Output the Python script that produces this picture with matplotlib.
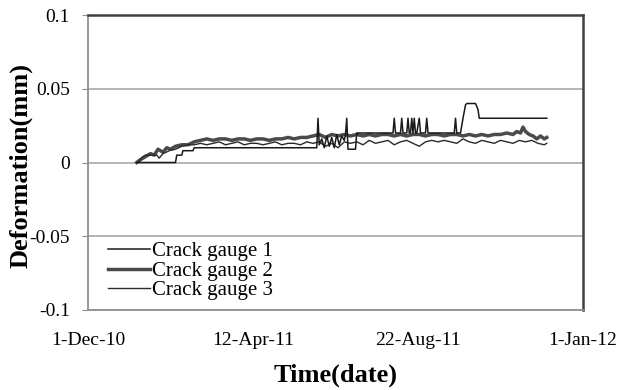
import matplotlib
matplotlib.use("Agg")
import matplotlib.pyplot as plt
import numpy as np

# ---- data (days since 1-Dec-2010, deformation in mm) ----
start_date = np.datetime64("2010-12-01")

g1_days = [39, 70, 71, 75, 76, 84, 85, 183, 184, 185, 187, 189, 191, 193, 195, 197, 199, 201,
           203, 205, 206, 207, 208, 214, 215, 244, 245, 246, 250, 251, 252, 255, 256, 257, 258,
           259, 260, 261, 262, 263, 265, 266, 267, 270, 271, 272, 293, 294, 295, 298, 300, 302,
           303, 310, 312, 313, 367]
g1_vals = [0.000, 0.000, 0.005, 0.005, 0.008, 0.008, 0.010, 0.010, 0.030, 0.012, 0.016, 0.010,
           0.018, 0.011, 0.017, 0.010, 0.019, 0.012, 0.018, 0.015, 0.019, 0.030, 0.009, 0.009,
           0.020, 0.020, 0.030, 0.020, 0.020, 0.030, 0.020, 0.020, 0.030, 0.020, 0.020, 0.030,
           0.020, 0.030, 0.020, 0.020, 0.030, 0.020, 0.020, 0.020, 0.030, 0.020, 0.020, 0.030,
           0.020, 0.020, 0.030, 0.039, 0.040, 0.040, 0.036, 0.030, 0.030]

g2_days = [39, 42, 46, 50, 53, 56, 60, 63, 66, 70, 75, 80, 85, 90, 95, 100, 105, 110, 115, 120,
           125, 130, 135, 140, 145, 150, 155, 160, 165, 170, 175, 180, 185, 190, 195, 200, 205,
           210, 215, 220, 225, 230, 235, 240, 245, 250, 255, 260, 265, 270, 275, 280, 285, 290,
           295, 300, 305, 310, 315, 320, 325, 330, 335, 340, 343, 346, 348, 350, 353, 356, 359,
           362, 365, 367]
g2_vals = [0.000, 0.002, 0.004, 0.006, 0.005, 0.009, 0.007, 0.010, 0.009, 0.011, 0.012, 0.012,
           0.014, 0.015, 0.016, 0.015, 0.016, 0.016, 0.015, 0.016, 0.016, 0.015, 0.016, 0.016,
           0.015, 0.016, 0.016, 0.017, 0.016, 0.017, 0.017, 0.018, 0.019, 0.017, 0.019, 0.018,
           0.019, 0.018, 0.019, 0.018, 0.019, 0.018, 0.019, 0.019, 0.018, 0.019, 0.018, 0.019,
           0.019, 0.018, 0.019, 0.019, 0.018, 0.019, 0.019, 0.018, 0.019, 0.018, 0.019, 0.018,
           0.019, 0.019, 0.020, 0.019, 0.021, 0.020, 0.024, 0.021, 0.019, 0.018, 0.016, 0.018,
           0.016, 0.017]

g3_days = [40, 44, 46, 55, 57, 60, 65, 70, 75, 80, 85, 90, 95, 100, 105, 110, 115, 120, 125,
           130, 135, 140, 145, 150, 155, 160, 165, 170, 175, 180, 185, 190, 195, 200, 205, 210,
           215, 220, 225, 230, 235, 240, 245, 250, 255, 260, 265, 270, 275, 280, 285, 290, 295,
           300, 305, 310, 315, 320, 325, 330, 335, 340, 345, 350, 355, 360, 365, 367]
g3_vals = [0.000, 0.004, 0.005, 0.005, 0.003, 0.006, 0.008, 0.009, 0.011, 0.012, 0.012, 0.013,
           0.012, 0.013, 0.014, 0.012, 0.013, 0.014, 0.012, 0.013, 0.013, 0.012, 0.013, 0.014,
           0.012, 0.013, 0.013, 0.012, 0.014, 0.013, 0.014, 0.011, 0.013, 0.010, 0.014, 0.013,
           0.014, 0.012, 0.015, 0.013, 0.014, 0.015, 0.012, 0.014, 0.015, 0.013, 0.011, 0.014,
           0.015, 0.014, 0.015, 0.014, 0.013, 0.016, 0.014, 0.013, 0.015, 0.014, 0.013, 0.015,
           0.014, 0.013, 0.015, 0.014, 0.015, 0.013, 0.012, 0.013]

series_labels = ["Crack gauge 1", "Crack gauge 2", "Crack gauge 3"]
x_tick_days = [0, 132, 264, 396]
x_tick_labels = ["1-Dec-10", "12-Apr-11", "22-Aug-11", "1-Jan-12"]
y_ticks = [-0.1, -0.05, 0, 0.05, 0.1]
y_tick_labels = ["-0.1", "-0.05", "0", "0.05", "0.1"]


def to_dates(days):
    return start_date + np.array(days).astype("timedelta64[D]")


plt.rcParams["font.family"] = ["Liberation Serif", "DejaVu Serif"]

fig = plt.figure(figsize=(6.2, 3.9), dpi=100)
ax = fig.add_axes([88 / 620, 1 - 310 / 390, (583 - 88) / 620, (310 - 15) / 390])

ax.plot(to_dates(g1_days), g1_vals, color="#1a1a1a", lw=1.1, label=series_labels[0], zorder=3)
ax.plot(to_dates(g2_days), g2_vals, color="#4a4a4a", lw=2.5, label=series_labels[1], zorder=2)
ax.plot(to_dates(g3_days), g3_vals, color="#2a2a2a", lw=1.0, label=series_labels[2], zorder=2)

ax.set_xlim(to_dates([0])[0], to_dates([396])[0])
ax.set_ylim(-0.1, 0.1)
ax.set_xticks(to_dates(x_tick_days))
ax.set_xticklabels(x_tick_labels, fontsize=14)
ax.set_yticks(y_ticks)
ax.set_yticklabels(y_tick_labels, fontsize=14)
ax.tick_params(axis="x", length=0, pad=16)
ax.tick_params(axis="y", length=4, color="#909090", pad=9)

ax.grid(axis="y", color="#a8a8a8", lw=1.2)
ax.set_axisbelow(True)

for side in ["left", "bottom"]:
    ax.spines[side].set_color("#909090")
    ax.spines[side].set_linewidth(1.3)
for side in ["top", "right"]:
    ax.spines[side].set_color("#404040")
    ax.spines[side].set_linewidth(1.8)

ax.set_ylabel("Deformation(mm)", fontsize=19, fontweight="bold")
ax.yaxis.set_label_coords(-0.112, 0.49)
ax.set_xlabel("Time(date)", fontsize=19, fontweight="bold", labelpad=10)

leg = ax.legend(loc="upper left", bbox_to_anchor=((103 - 88) / 495, (310 - 236.5) / 295),
                frameon=True, fontsize=15, handlelength=2.0, handletextpad=0.1,
                labelspacing=0.0, borderpad=0.25, borderaxespad=0.0)
leg.get_frame().set_facecolor("white")
leg.get_frame().set_edgecolor("none")
leg.get_frame().set_alpha(1)
leg.get_frame().set_boxstyle("square", pad=0)

fig.savefig("out.png", dpi=100)
